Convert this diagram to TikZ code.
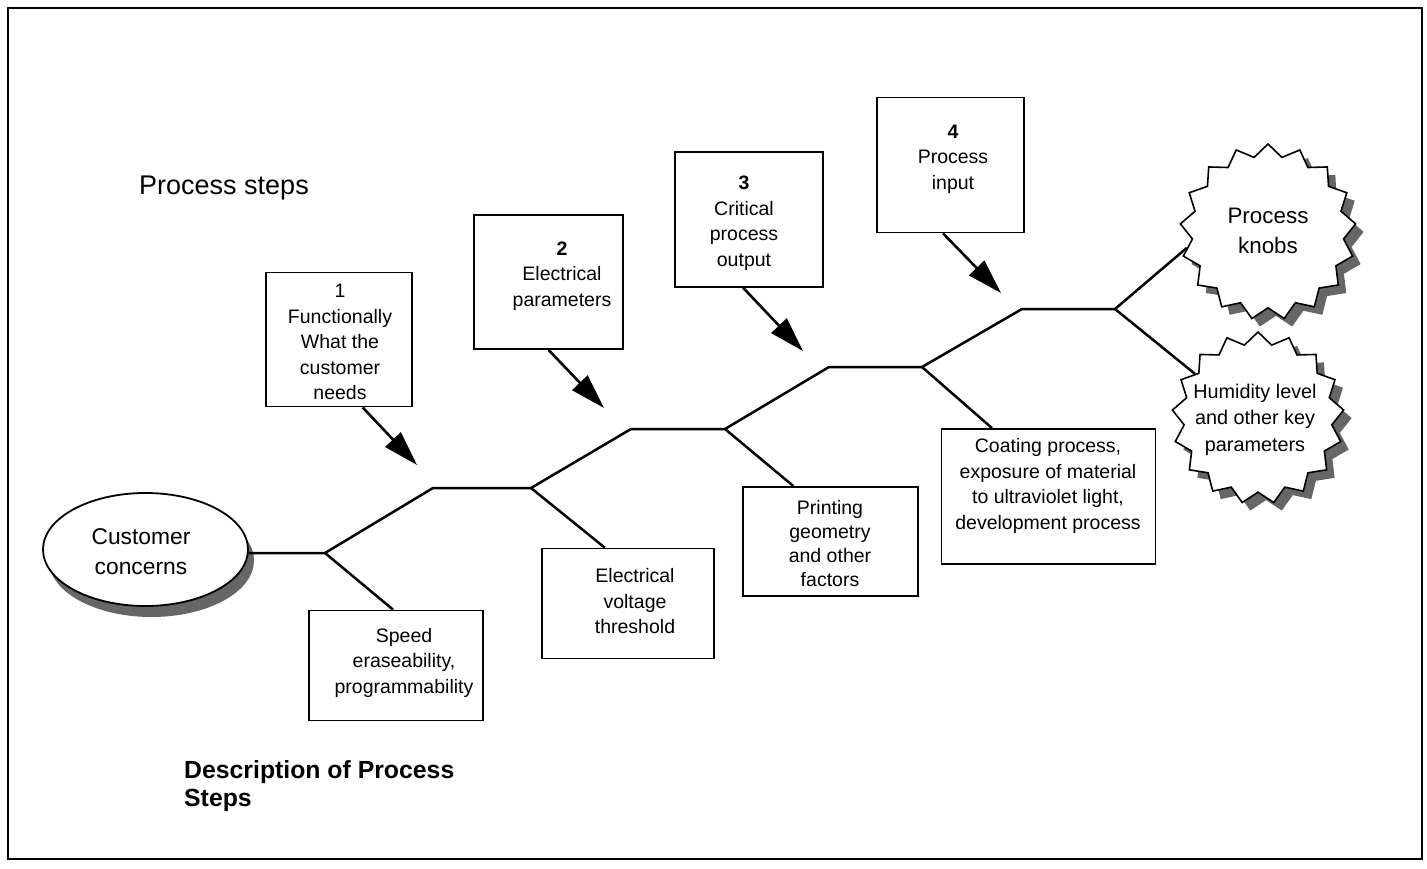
\documentclass[tikz,border=0pt]{standalone}
\usepackage{fontspec}
\setmainfont{Liberation Sans}
\usetikzlibrary{arrows.meta,shapes.geometric,calc}
\begin{document}
\begin{tikzpicture}[x=1pt,y=-1pt,
  box/.style={draw=black,line width=1.8pt,fill=white,inner sep=0pt},
  txt/.style={align=center,inner sep=0pt,font=\fontsize{19.5}{25.5}\selectfont},
  spine/.style={line width=2.5pt,line join=miter},
  pointer/.style={line width=2.6pt,-{Triangle[length=35pt,width=21pt]}},
  shade/.style={fill=black!60,draw=none},
  burst/.style={star,star points=17,star point ratio=1.16,minimum size=176pt,inner sep=0pt}]
\useasboundingbox (0,0) rectangle (1427,869);
\draw[line width=2pt] (8,8) rectangle (1422,859);

% title
\node[inner sep=0pt,font=\fontsize{27}{32}\selectfont] (ps) at (224,188) {Process steps};
\node[inner sep=0pt,anchor=west,align=left,font=\fontsize{24.8}{28}\selectfont\bfseries] (desc) at (184,786) {Description of Process\\Steps};

% spine coordinates
\coordinate (j0) at (325,553);
\coordinate (a1) at (433,488);
\coordinate (j1) at (531,488);
\coordinate (a2) at (631,429);
\coordinate (j2) at (725,429);
\coordinate (a3) at (829,367);
\coordinate (j3) at (922,367);
\coordinate (a4) at (1022,309);
\coordinate (j4) at (1115,309);

% customer concerns ellipse
\node[ellipse,shade,minimum width=205pt,minimum height=113pt] (ccs) at (151.5,560.5) {};
\node[ellipse,draw=black,line width=1.8pt,fill=white,minimum width=205pt,minimum height=113pt,inner sep=0pt] (cc) at (145.5,549.5) {};
\node[inner sep=0pt,align=center,font=\fontsize{22.8}{30}\selectfont] (cct) at (141,552) {Customer\\concerns};

% starbursts
\node[burst,shade] (kns) at (1276,240) {};
\node[burst,draw=black,line width=1.6pt,fill=white] (kn) at (1268,232) {};
\node[inner sep=0pt,align=center,font=\fontsize{22.4}{30}\selectfont] (knt) at (1268,231) {Process\\knobs};
\node[burst,shade,minimum size=172pt] (hus) at (1266,426) {};
\node[burst,draw=black,line width=1.6pt,fill=white,minimum size=172pt] (hu) at (1258,418) {};
\node[inner sep=0pt,align=center,font=\fontsize{19.8}{26.5}\selectfont] (hut) at (1255,419.5) {Humidity level\\and other key\\parameters};

% spine
\draw[spine] (j0 -| cc.east) -- (j0) -- (a1) -- (j1) -- (a2) -- (j2) -- (a3) -- (j3) -- (a4) -- (j4);
\draw[spine] (j4) -- (kn.191);
\draw[spine] (j4) -- (hu.145);

% top boxes
\node[box,minimum width=146pt,minimum height=134pt] (b1) at (339,339.5) {};
\node[txt] (t1) at (340,342) {1\\Functionally\\What the\\customer\\needs};
\node[box,minimum width=149pt,minimum height=134pt] (b2) at (548.5,282) {};
\node[txt] (t2) at (562,276) {\textbf{2}\\Electrical\\parameters};
\node[box,minimum width=148pt,minimum height=134.5pt] (b3) at (749,219.5) {};
\node[txt] (t3) at (744,223) {\textbf{3}\\Critical\\process\\output};
\node[box,minimum width=147pt,minimum height=135pt] (b4) at (950.5,165) {};
\node[txt] (t4) at (953,159) {\textbf{4}\\Process\\input};

% pointer tips
\coordinate (p1) at (417,465);
\coordinate (p2) at (604,408);
\coordinate (p3) at (803,351);
\coordinate (p4) at (1001,293);
\draw[pointer] ($(b1.south west)!0.66!(b1.south east)$) -- (p1);
\draw[pointer] ($(b2.south west)!0.5!(b2.south east)$) -- (p2);
\draw[pointer] ($(b3.south west)!0.46!(b3.south east)$) -- (p3);
\draw[pointer] ($(b4.south west)!0.45!(b4.south east)$) -- (p4);

% bottom boxes
\node[box,minimum width=174pt,minimum height=110pt] (b5) at (396,665.5) {};
\node[txt] (t5) at (404,662.5) {Speed\\eraseability,\\programmability};
\node[box,minimum width=172pt,minimum height=110pt] (b6) at (628,603.5) {};
\node[txt] (t6) at (635,601.5) {Electrical\\voltage\\threshold};
\node[box,minimum width=175pt,minimum height=109pt] (b7) at (830.5,541.5) {};
\node[txt,font=\fontsize{19.5}{24}\selectfont] (t7) at (830,544) {Printing\\geometry\\and other\\factors};
\node[box,minimum width=214pt,minimum height=135pt] (b8) at (1048.5,496.5) {};
\node[txt] (t8) at (1048,486) {Coating process,\\exposure of material\\to ultraviolet light,\\development process};

% branches
\draw[spine] (j0) -- ($(b5.north west)!0.483!(b5.north east)$);
\draw[spine] (j1) -- ($(b6.north west)!0.366!(b6.north east)$);
\draw[spine] (j2) -- ($(b7.north west)!0.29!(b7.north east)$);
\draw[spine] (j3) -- ($(b8.north west)!0.238!(b8.north east)$);
\end{tikzpicture}
\end{document}
